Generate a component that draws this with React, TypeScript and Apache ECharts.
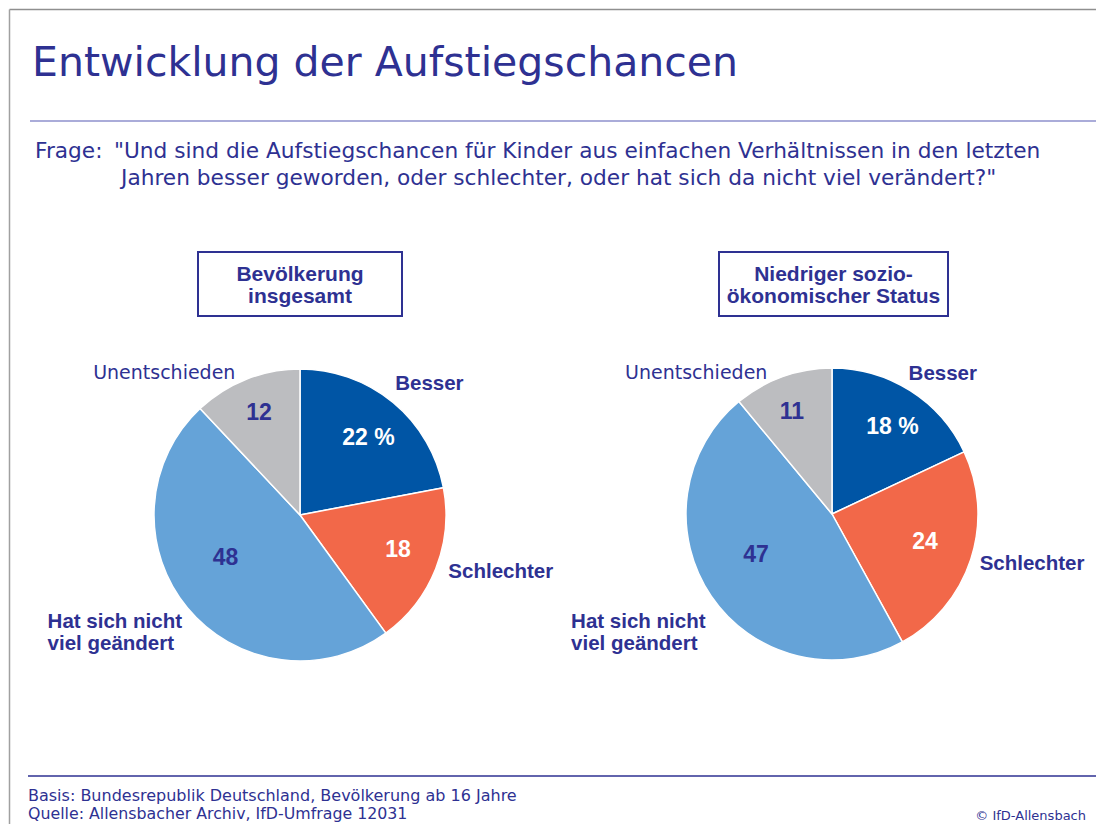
import React, { useEffect, useRef } from "react";
import * as echarts from "echarts";

// ---------- data ----------
const categories = ["Besser", "Schlechter", "Hat sich nicht\nviel geändert", "Unentschieden"];
const valuesTotal = [22, 18, 48, 12];
const valuesLowStatus = [18, 24, 47, 11];
const panelTitles = ["Bevölkerung\ninsgesamt", "Niedriger sozio-\nökonomischer Status"];
const titleText = "Entwicklung der Aufstiegschancen";
const questionLabel = "Frage:";
const questionLine1 = "\"Und sind die Aufstiegschancen für Kinder aus einfachen Verhältnissen in den letzten";
const questionLine2 = "Jahren besser geworden, oder schlechter, oder hat sich da nicht viel verändert?\"";
const footBasis = "Basis: Bundesrepublik Deutschland, Bevölkerung ab 16 Jahre";
const footSource = "Quelle: Allensbacher Archiv, IfD-Umfrage 12031";
const footCopy = "© IfD-Allensbach";

// ---------- styles ----------
const INK = "#2e3192";
const sliceColors = ["#0055a5", "#f26849", "#65a3d8", "#bcbdc0"];
const innerLabelColors = ["#ffffff", "#ffffff", INK, INK];
const outerBold = [true, true, true, false];
const outerAlign = ["center", "center", "left", "center"];
const REG = "'DejaVu Sans', sans-serif";
const BOLD = "'Liberation Sans', Arial, sans-serif";

const pieCenters: [number, number][] = [[300, 515], [832, 514]];
const R = 146;
const innerOffsets = [
  [[6, -3], [7, -2], [1, -20], [-5, -12]],
  [[8, -5], [0, -3], [5, -15], [-7, -11]],
];
const outerOffsets = [
  [[0, 24], [12, -19], [-96, -13], [-61, 46]],
  [[2, 30], [7, -14], [-93, 3], [-67, 49]],
];
const boxes = [
  { x: 198, y: 252, w: 204, h: 64 },
  { x: 719, y: 252, w: 229, h: 64 },
];

function buildSeries(values: number[], idx: number): any[] {
  const center = pieCenters[idx];
  const main = {
    type: "pie",
    center,
    radius: [0, R],
    startAngle: 90,
    clockwise: true,
    silent: true,
    avoidLabelOverlap: false,
    label: { show: false },
    labelLine: { show: false },
    emphasis: { disabled: true },
    data: values.map((v, i) => ({
      name: categories[i],
      value: v,
      itemStyle: { color: sliceColors[i], borderColor: "#ffffff", borderWidth: 1.5 },
    })),
  };
  const inner = {
    type: "pie",
    center,
    radius: [R * 0.3, R],
    startAngle: 90,
    clockwise: true,
    silent: true,
    avoidLabelOverlap: false,
    itemStyle: { color: "rgba(0,0,0,0)", borderWidth: 0 },
    emphasis: { disabled: true },
    labelLine: { show: false },
    label: {
      show: true,
      position: "inside",
      fontFamily: BOLD,
      fontWeight: "bold",
      fontSize: 23,
      formatter: (p: any) => (p.dataIndex === 0 ? `${p.value} %` : `${p.value}`),
    },
    labelLayout: (p: any) => ({ dx: innerOffsets[idx][p.dataIndex][0], dy: innerOffsets[idx][p.dataIndex][1] }),
    data: values.map((v, i) => ({
      name: categories[i],
      value: v,
      label: { color: innerLabelColors[i] },
    })),
  };
  const outer = {
    type: "pie",
    center,
    radius: [R, R + 108],
    startAngle: 90,
    clockwise: true,
    silent: true,
    avoidLabelOverlap: false,
    itemStyle: { color: "rgba(0,0,0,0)", borderWidth: 0 },
    emphasis: { disabled: true },
    labelLine: { show: false },
    label: {
      show: true,
      position: "inside",
      color: INK,
      formatter: "{b}",
      lineHeight: 22,
    },
    labelLayout: (p: any) => ({
      dx: outerOffsets[idx][p.dataIndex][0],
      dy: outerOffsets[idx][p.dataIndex][1],
      align: outerAlign[p.dataIndex],
    }),
    data: values.map((v, i) => ({
      name: categories[i],
      value: v,
      label: outerBold[i]
        ? { fontFamily: BOLD, fontWeight: "bold", fontSize: 20.5, align: outerAlign[i] }
        : { fontFamily: REG, fontWeight: "normal", fontSize: 19 },
    })),
  };
  return [main, inner, outer];
}

export default function App() {
  const ref = useRef<HTMLDivElement>(null);
  useEffect(() => {
    document.body.style.margin = "0";
    if (!ref.current) return;
    const chart = echarts.init(ref.current, undefined, { renderer: "svg" });
    const graphic: any[] = [
      { type: "line", shape: { x1: 9.5, y1: 9.5, x2: 1096, y2: 9.5 }, style: { stroke: "#8f8f8f", lineWidth: 1.5 } },
      { type: "line", shape: { x1: 9.5, y1: 9.5, x2: 9.5, y2: 824 }, style: { stroke: "#a0a0a0", lineWidth: 1.5 } },
      { type: "text", x: 32, y: 62, style: { text: titleText, font: `41px ${REG}`, fill: INK, verticalAlign: "middle" } },
      { type: "line", shape: { x1: 30, y1: 121, x2: 1096, y2: 121 }, style: { stroke: "#8e90cc", lineWidth: 1.6 } },
      { type: "text", x: 35, y: 150, style: { text: questionLabel, font: `21.7px ${REG}`, fill: INK, verticalAlign: "middle" } },
      { type: "text", x: 114, y: 150, style: { text: questionLine1, font: `21.7px ${REG}`, fill: INK, verticalAlign: "middle" } },
      { type: "text", x: 121, y: 177, style: { text: questionLine2, font: `21.7px ${REG}`, fill: INK, verticalAlign: "middle" } },
      { type: "line", shape: { x1: 28, y1: 776, x2: 1096, y2: 776 }, style: { stroke: INK, lineWidth: 1.3 } },
      { type: "text", x: 28, y: 795, style: { text: footBasis, font: `16px ${REG}`, fill: INK, verticalAlign: "middle" } },
      { type: "text", x: 28, y: 813, style: { text: footSource, font: `15.8px ${REG}`, fill: INK, verticalAlign: "middle" } },
      { type: "text", x: 1086, y: 815, style: { text: footCopy, font: `13px ${REG}`, fill: INK, align: "right", verticalAlign: "middle" } },
    ];
    boxes.forEach((b, i) => {
      graphic.push({
        type: "rect",
        shape: { x: b.x, y: b.y, width: b.w, height: b.h },
        style: { fill: "#ffffff", stroke: INK, lineWidth: 2 },
      });
      graphic.push({
        type: "text",
        x: b.x + b.w / 2,
        y: b.y + b.h / 2,
        style: {
          text: panelTitles[i],
          font: `bold 21px ${BOLD}`,
          fill: INK,
          align: "center",
          verticalAlign: "middle",
          lineHeight: 22,
        },
      });
    });
    chart.setOption({
      animation: false,
      backgroundColor: "#ffffff",
      graphic,
      series: [...buildSeries(valuesTotal, 0), ...buildSeries(valuesLowStatus, 1)],
    });
    return () => chart.dispose();
  }, []);
  return <div ref={ref} style={{ width: 1096, height: 824 }} />;
}
